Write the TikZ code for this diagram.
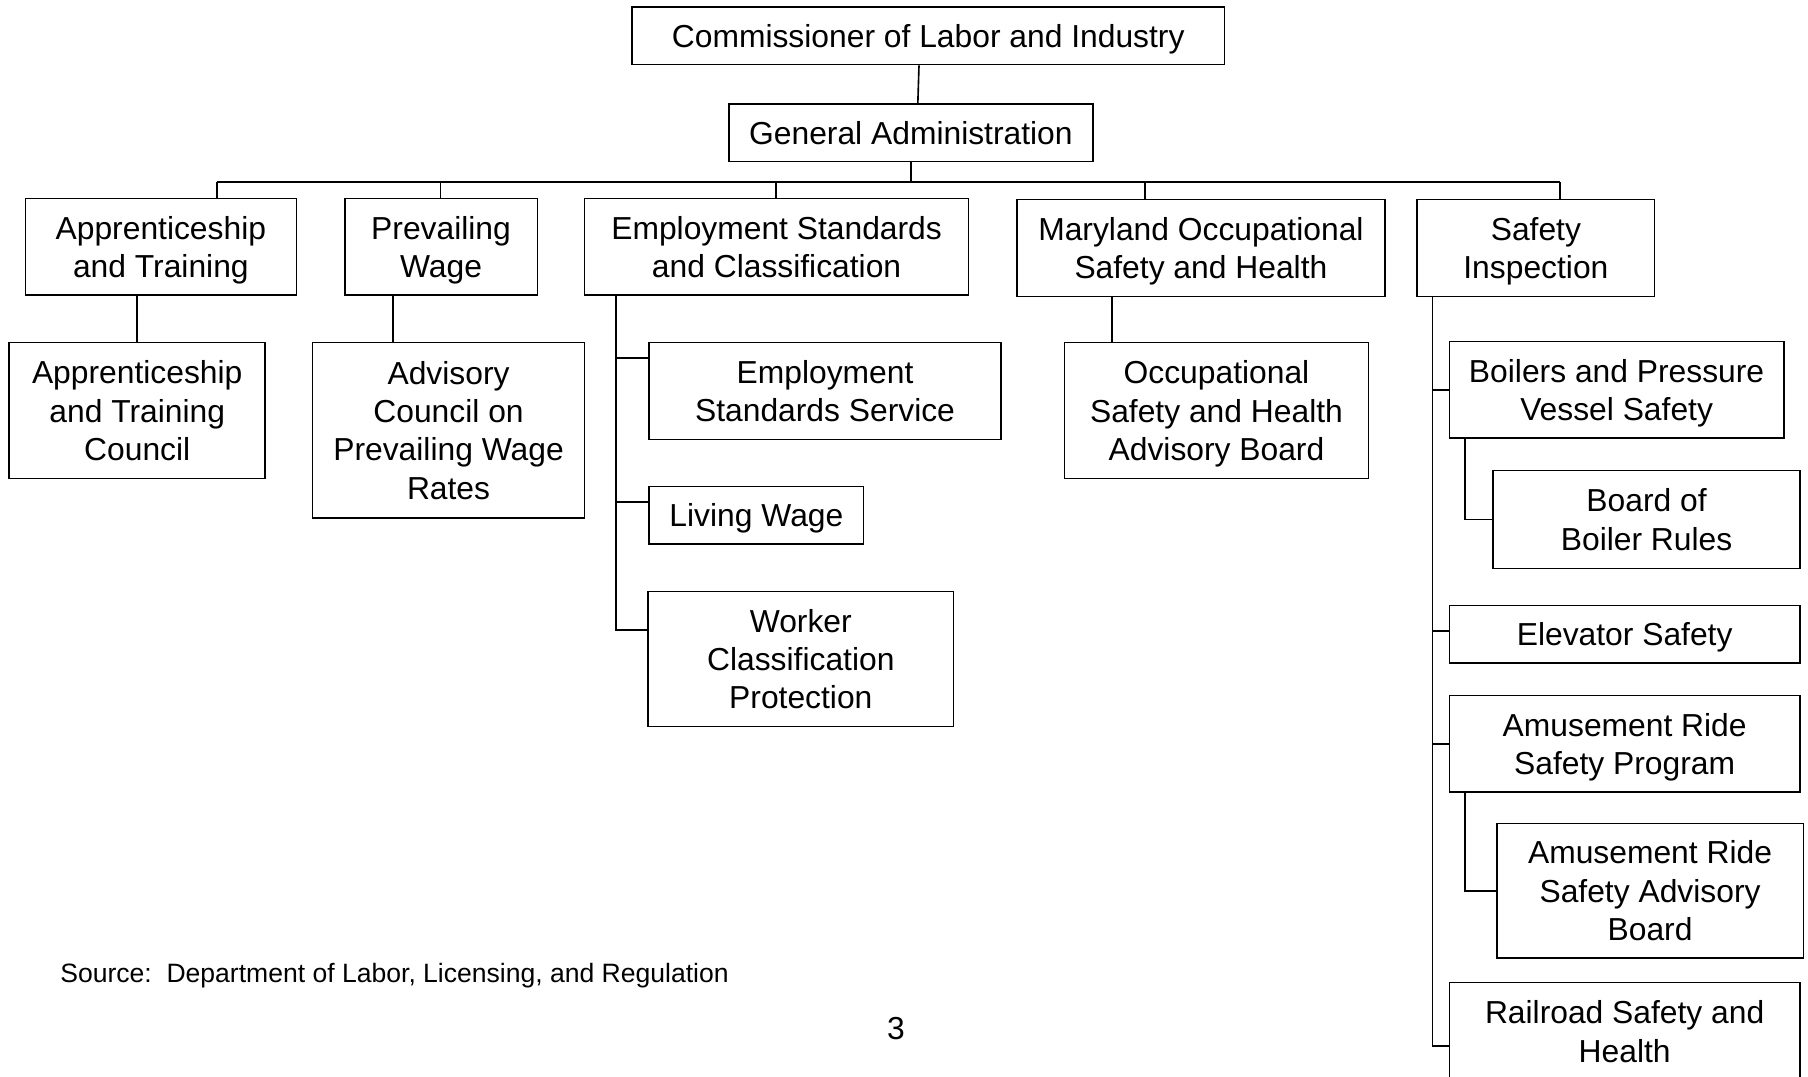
\documentclass[tikz,border=0pt]{standalone}
\usepackage{fontspec}
\setmainfont{Liberation Sans}

\begin{document}
\begin{tikzpicture}[x=0.02cm,y=-0.02cm]
		\useasboundingbox (0,0) rectangle (1568,934);
		\begin{scope}[every node/.style={draw,line width=0.8pt,align=center,inner sep=0pt,text depth=0pt,
			font=\fontsize{15.7}{18.9}\selectfont}]
			% top of the chart
			\node[minimum width=10.28cm,minimum height=1cm] (comm) at (805,31) {Commissioner of Labor and Industry};
			\node[minimum width=6.32cm,minimum height=1cm] (genadm) at (790,115) {General Administration};
			% divisions
			\node[minimum width=4.7cm,minimum height=1.68cm] (appr) at (139.5,214) {Apprenticeship\\and Training};
			\node[minimum width=3.34cm,minimum height=1.68cm] (prev) at (382.5,214) {Prevailing\\Wage};
			\node[minimum width=6.66cm,minimum height=1.68cm] (esc) at (673.5,214) {Employment Standards\\and Classification};
			\node[minimum width=6.38cm,minimum height=1.68cm] (mosh) at (1041.5,215) {Maryland Occupational\\Safety and Health};
			\node[minimum width=4.12cm,minimum height=1.68cm] (safety) at (1332,215) {Safety\\Inspection};
			% units under each division
			\node[minimum width=4.44cm,minimum height=2.36cm] (apprc) at (119,356) {Apprenticeship\\and Training\\Council};
			\node[minimum width=4.72cm,minimum height=3.04cm] (advc) at (389,373) {Advisory\\Council on\\Prevailing Wage\\Rates};
			\node[minimum width=6.1cm,minimum height=1.68cm] (ess) at (715.5,339) {Employment\\Standards Service};
			\node[minimum width=3.72cm,minimum height=1cm] (living) at (656,447) {Living Wage};
			\node[minimum width=5.3cm,minimum height=2.34cm] (worker) at (694.5,571.5) {Worker\\Classification\\Protection};
			\node[minimum width=5.28cm,minimum height=2.36cm] (oshab) at (1055,356) {Occupational\\Safety and Health\\Advisory Board};
			\node[minimum width=5.8cm,minimum height=1.68cm] (boilers) at (1402,338) {Boilers and Pressure\\Vessel Safety};
			\node[minimum width=5.32cm,minimum height=1.7cm] (bbr) at (1428,450.5) {Board of\\Boiler Rules};
			\node[minimum width=6.08cm,minimum height=1cm] (elev) at (1409,550) {Elevator Safety};
			\node[minimum width=6.08cm,minimum height=1.68cm] (arsp) at (1409,645) {Amusement Ride\\Safety Program};
			\node[minimum width=5.32cm,minimum height=2.34cm] (arsab) at (1431,772.5) {Amusement Ride\\Safety Advisory\\Board};
			\node[minimum width=6.08cm,minimum height=1.7cm] (rail) at (1409,894.5) {Railroad Safety and\\Health};
		\end{scope}
		\begin{scope}[line width=0.8pt]
			\draw ([xshift=-0.16cm]comm.south) -- ([xshift=0.12cm]genadm.north);
			% bus under general administration
			\coordinate (b1) at (188,158);
			\coordinate (b2) at (382,158);
			\coordinate (b3) at (673,158);
			\coordinate (b4) at (993,158);
			\coordinate (b5) at (1353,158);
			\draw[line width=1.2pt] (b1) -- (b5);
			\draw (genadm.south) -- (genadm.south |- b1);
			\foreach \b/\n in {b1/appr,b2/prev,b3/esc,b4/mosh,b5/safety}
				\draw (\b) -- (\b |- \n.north);
			% single units
			\draw (apprc.north) -- (apprc.north |- appr.south);
			\coordinate (p1) at ([xshift=-0.83cm]prev.south);
			\draw (p1) -- (p1 |- advc.north);
			\coordinate (m1) at ([xshift=1.66cm]mosh.south west);
			\draw (m1) -- (m1 |- oshab.north);
			% employment standards
			\coordinate (escL) at ([xshift=0.56cm]esc.south west);
			\draw (escL) |- ([yshift=-0.68cm]worker.north west);
			\draw ([yshift=-0.28cm]ess.north west) -- ++(-28,0);
			\draw ([yshift=-0.28cm]living.north west) -- ++(-28,0);
			% safety inspection
			\coordinate (sL) at ([xshift=0.28cm]safety.south west);
			\draw (sL) |- ([yshift=-0.25cm]rail.west);
			\draw (boilers.west) -- ++(-14,0);
			\draw ([yshift=0.06cm]elev.west) -- ++(-14,0);
			\draw (arsp.west) -- ++(-14,0);
			\coordinate (bsub) at ([xshift=0.28cm]boilers.south west);
			\draw (bsub) |- (bbr.west);
			\coordinate (asub) at ([xshift=0.28cm]arsp.south west);
			\draw (asub) |- (arsab.west);
		\end{scope}
		\node[anchor=west,inner sep=0pt,font=\fontsize{13.1}{15.6}\selectfont] (src) at (52,846) {Source:\ \ Department of Labor, Licensing, and Regulation};
		\node[inner sep=0pt,font=\fontsize{15.7}{18.9}\selectfont] (page) at (777,892) {3};
	\end{tikzpicture}
\end{document}
